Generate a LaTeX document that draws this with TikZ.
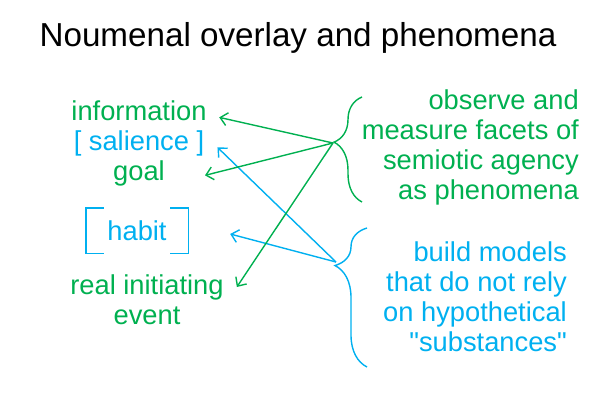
\documentclass[tikz,border=0pt]{standalone}
\usepackage{fontspec}
\setmainfont{Liberation Sans}[Ligatures=TeXOff]
\usetikzlibrary{arrows.meta,decorations.pathreplacing}
\definecolor{pgreen}{HTML}{00B050}
\definecolor{pblue}{HTML}{00B0F0}
\begin{document}
\begin{tikzpicture}[x=1pt, y=-1pt,
    txt/.style = {inner sep=0pt, font = {\fontsize{27.3}{30}\selectfont}},
    arr/.style = {line width=1.4pt, -{Straight Barb[length=7pt,width=13pt]}},
    brc/.style = {line width=1.4pt, decorate, decoration={brace, amplitude=#1}}]
    \useasboundingbox (0,0) rectangle (600,400);
    \node[anchor=base, inner sep=0pt, font = {\fontsize{33.2}{40}\selectfont}] (title) at (298,46) {Noumenal overlay and phenomena};
    \node[txt, pgreen, anchor=base] (info) at (139,120) {information};
    \node[txt, pblue, anchor=base] (sal) at (139,150) {[ salience ]};
    \node[txt, pgreen, anchor=base] (goal) at (139,180) {goal};
    \node[txt, pblue, minimum width=102pt, minimum height=45pt] (habit) at (137,230.5) {habit};
    \node[txt, pgreen, align=center, anchor=north] (event) at (147,275) {real initiating\\event};
    \node[txt, pgreen, align=right, anchor=east] (obs) at (579,147) {observe and\\measure facets of\\semiotic agency\\as phenomena};
    \node[txt, pblue, align=right, anchor=east] (build) at (567,296.5) {build models\\that do not rely\\on hypothetical\\"substances"};
    \draw[pblue, line width=1.4pt] ([xshift=18pt]habit.north west) -- (habit.north west) -- (habit.south west) -- ([xshift=18pt]habit.south west);
    \draw[pblue, line width=1.4pt] ([xshift=-18pt]habit.north east) -- (habit.north east) -- (habit.south east) -- ([xshift=-18pt]habit.south east);
    \draw[brc=28pt, pgreen, decoration={aspect=0.57}] (362,202) -- (362,97);
    \draw[brc=32pt, pblue, decoration={aspect=0.73}] (367,367) -- (367,228);
    \coordinate (gtip) at (333,143);
    \coordinate (btip) at (336,262);
    \draw[arr, pblue] (btip) -- ([xshift=13pt]sal.mid east);
    \draw[arr, pblue] (btip) -- ([xshift=42pt,yshift=-3.5pt]habit.east);
    \draw[arr, pgreen] (gtip) -- ([xshift=12.5pt]info.mid east);
    \draw[arr, pgreen] (gtip) -- ([xshift=40pt,yshift=2pt]goal.mid east);
    \draw[arr, pgreen] (gtip) -- ([xshift=13pt,yshift=-12pt]event.north east);
\end{tikzpicture}
\end{document}
